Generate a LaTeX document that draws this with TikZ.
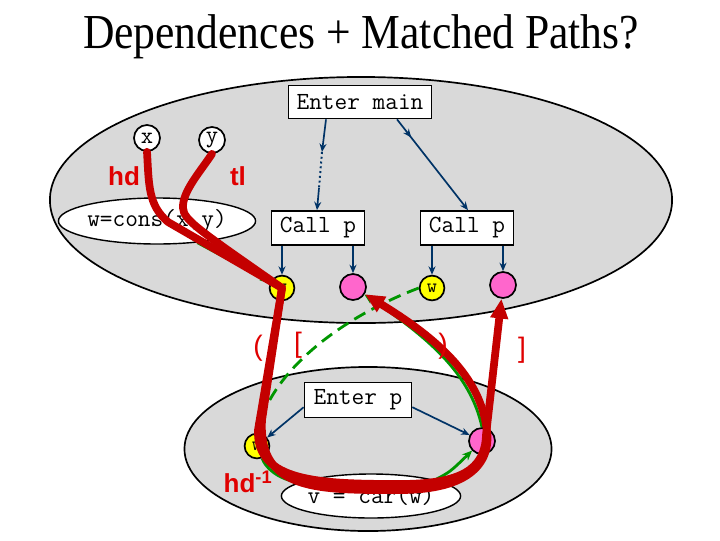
\documentclass[tikz,border=0pt]{standalone}
\usepackage{fontspec}
\setmainfont{Liberation Serif}
\setsansfont{Liberation Sans}
\usetikzlibrary{arrows.meta,shapes.geometric,decorations.markings}
\definecolor{regiongray}{RGB}{217,217,217}
\definecolor{pathred}{RGB}{196,0,0}
\definecolor{labelred}{RGB}{224,0,0}
\definecolor{flownavy}{RGB}{0,51,102}
\definecolor{depgreen}{RGB}{0,150,0}
\definecolor{exitpink}{RGB}{255,102,204}
\definecolor{entryyellow}{RGB}{255,255,0}

\begin{document}
\begin{tikzpicture}[x=0.025cm,y=-0.025cm,
        region/.style={draw=black,line width=1.2pt,fill=regiongray},
        box/.style={draw=black,line width=1.2pt,fill=white,inner sep=0pt,
          font=\ttfamily\fontsize{17.5}{20}\selectfont},
        callbox/.style={box,minimum width=2.325cm,minimum height=0.85cm},
        stmt/.style={ellipse,draw=black,line width=1pt,fill=white,inner sep=0pt,
          font=\ttfamily\fontsize{17.5}{20}\selectfont},
        varnode/.style={circle,draw=black,line width=1.2pt,fill=white,inner sep=0pt,
          minimum size=0.65cm,font=\ttfamily\fontsize{17}{20}\selectfont},
        actin/.style={circle,draw=black,line width=1.2pt,fill=entryyellow,inner sep=0pt,
          minimum size=0.62cm,font=\ttfamily\fontsize{14}{16}\selectfont},
        actout/.style={circle,draw=black,line width=1.2pt,fill=exitpink,inner sep=0pt,
          minimum size=0.65cm},
        flow/.style={draw=flownavy,line width=1.2pt,-{Stealth[length=6pt,width=5pt]}},
        midflow/.style={flow,postaction={decorate},decoration={markings,
          mark=at position 0.2 with {\arrow{Stealth[length=6pt,width=5pt]}}}},
        dep/.style={draw=depgreen,line width=2pt,-{Stealth[length=7pt,width=6pt]}},
        summary/.style={draw=pathred,line width=5.5pt,line cap=round,line join=round,
          -{Triangle[length=14pt,width=12pt]}},
        lbl/.style={text=labelred,font=\sffamily\bfseries\fontsize{18.5}{20}\selectfont},
        brk/.style={text=labelred,font=\sffamily\fontsize{20}{22}\selectfont}]
        \fill[white] (0,0) rectangle (720,540);
        \useasboundingbox (0,0) rectangle (720,540);
        % title
        \node[anchor=base,font=\fontsize{31}{36}\selectfont] (title) at (361,48) {\scalebox{1}[1.12]{Dependences + Matched Paths?}};
        % procedure regions
        \draw[region] (361,200) ellipse [x radius=7.775cm, y radius=3.075cm];
        \draw[region] (368,449) ellipse [x radius=4.5875cm, y radius=2.05cm];
        % main
        \node[box,minimum width=3.575cm,minimum height=0.825cm] (main) at (360,102) {Enter main};
        \node[varnode] (x) at (147,138) {x};
        \node[varnode] (y) at (212,140) {y};
        \node[stmt,minimum width=4.3cm,minimum height=1.15cm] (cons) at (157,221) {w=cons(x,y)};
        \node[callbox] (call1) at (318,228) {Call p};
        \node[callbox] (call2) at (467,228) {Call p};
        \node[actin] (win1) at (282,288) {w};
        \node[actout] (pout1) at (353,287) {};
        \node[actin] (win2) at (432,288) {w};
        \node[actout] (pout2) at (503,285) {};
        % p
        \node[box,minimum width=2.675cm,minimum height=0.875cm] (entp) at (358,400) {Enter p};
        \node[actin] (wform) at (257,446) {w};
        \node[actout] (pform) at (482,441) {};
        \node[stmt,minimum width=3.8cm,minimum height=1.1cm] (car) at (371,496) {v = car(w)};
        % control flow
        \coordinate (skip1) at (322,152);
        \coordinate (skip2) at (319,188);
        \draw[flow] (326,0 |- main.south) -- (skip1);
        \draw[flownavy,line width=1.4pt,dotted] (skip1) -- (skip2);
        \draw[flow] (skip2) -- (317,0 |- call1.north);
        \draw[midflow] (397,0 |- main.south) -- (468,0 |- call2.north);
        \draw[flow] (call1.south -| win1) -- (win1);
        \draw[flow] (call1.south -| pout1) -- (pout1);
        \draw[flow] (call2.south -| win2) -- (win2);
        \draw[flow] (call2.south -| pout2) -- (pout2);
        \draw[flow] ([yshift=-0.18cm]entp.west) -- (wform);
        \draw[flow] ([yshift=-0.18cm]entp.east) -- (pform);
        % dependences
        \draw[dep] (cons) -- (win1);
        \draw[dep,dashed,dash pattern=on 9pt off 5pt] (win2.west) .. controls (340,318) and (274,370) .. (wform.north);
        \draw[dep,-] (wform) .. controls (270,478) and (300,486) .. (car.north west);
        \draw[dep] (car.north east) .. controls (450,472) .. (pform);
        \draw[dep] (pform.north) .. controls (470,372) and (426,336) .. (pout1);
        % paths
        \draw[summary] (x.south) .. controls (149,185) and (148,205) .. (168,222)
          -- (win1.center) -- (262,420) .. controls (258,492) and (320,490) .. (400,490)
          .. controls (470,490) and (494,462) .. (486,425) .. controls (478,372) and (430,334) .. (pout1);
        \draw[summary] (y.south) .. controls (200,172) and (182,192) .. (183,208)
          .. controls (184,220) and (196,228) .. (win1.center) -- (258,430)
          .. controls (256,482) and (320,484) .. (400,484) .. controls (460,484) and (485,470) .. (486,435)
          -- (pout2);
        % labels
        \node[lbl] (hd) at (124,176) {hd};
        \node[lbl] (tl) at (238,176) {tl};
        \node[lbl] (hdinv) at (248,482) {hd\textsuperscript{-1}};
        \node[brk] (lcall) at (258,348) {(};
        \node[brk] (lbrack) at (298,345) {[};
        \node[brk] (rcall) at (443,346) {)};
        \node[brk] (rbrack) at (522,350) {]};
\end{tikzpicture}
\end{document}
